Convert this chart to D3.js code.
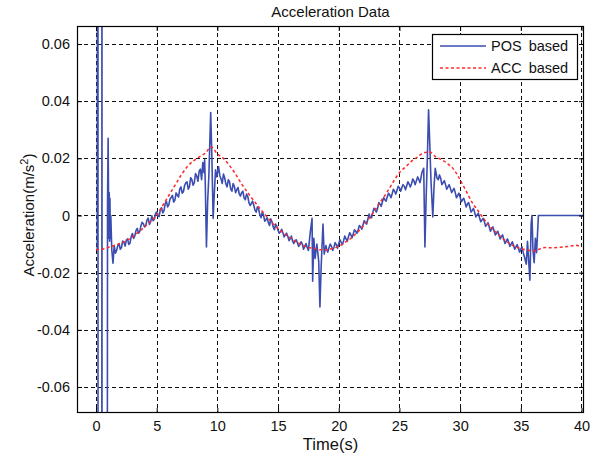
<!DOCTYPE html>
<html><head><meta charset="utf-8">
<script src="https://cdn.jsdelivr.net/npm/d3@7"></script>
<style>body{margin:0;background:#fff}svg{display:block;font-family:Arial,"Liberation Sans",sans-serif}</style>
</head><body><svg id="c" width="594" height="460"></svg>
<script>
const chartTitle = "Acceleration Data";
const xLabel = "Time(s)";
const seriesNames = ["POS based", "ACC based"];
const xTicks = [0, 5, 10, 15, 20, 25, 30, 35, 40];
const xTickLabels = ["0", "5", "10", "15", "20", "25", "30", "35", "40"];
const yTicks = [-0.06, -0.04, -0.02, 0, 0.02, 0.04, 0.06];
const yTickLabels = ["-0.06", "-0.04", "-0.02", "0", "0.02", "0.04", "0.06"];
const xDomain = [-1.565, 40.206];
const yDomain = [-0.0691, 0.0663];

// POS based: [time s, acceleration m/s^2]
const posBased = [
[0.1,-0.012],[0.16,0.3],[0.17,-0.3],[0.48,-0.3],[0.49,0.3],[0.5,-0.3],[0.9,-0.3],[0.95,0.004],
[1.0,0.027],[1.03,0.008],[1.06,-0.008],[1.09,0.008],[1.12,-0.009],[1.15,0.006],[1.18,-0.008],
[1.22,0.0],[1.3,-0.012],[1.4,-0.0167],[1.5,-0.0105],[1.6,-0.0132],[1.7,-0.0122],[1.8,-0.0105],[1.9,-0.0098],
[2.0,-0.0118],[2.1,-0.0112],[2.2,-0.0089],[2.3,-0.0094],[2.4,-0.0107],[2.5,-0.0086],[2.6,-0.0082],[2.7,-0.0101],
[2.8,-0.0097],[2.9,-0.0074],[3.0,-0.0063],[3.1,-0.0080],[3.2,-0.0071],[3.3,-0.0052],[3.4,-0.0045],[3.5,-0.0062],
[3.6,-0.0057],[3.7,-0.0036],[3.8,-0.0024],[3.9,-0.0029],[4.0,-0.0040],[4.1,-0.0035],[4.2,-0.0016],[4.3,-0.0009],
[4.4,-0.0031],[4.5,-0.0022],[4.6,-0.0001],[4.7,-0.0018],[4.8,-0.0013],[4.9,0.0006],[5.0,0.0012],[5.1,-0.0002],
[5.2,-0.0004],[5.3,0.0021],[5.4,0.0027],[5.5,0.0009],[5.6,0.0016],[5.7,0.0041],[5.8,0.0050],[5.9,0.0030],
[6.0,0.0037],[6.1,0.0058],[6.2,0.0064],[6.3,0.0070],[6.4,0.0047],[6.5,0.0054],[6.6,0.0079],[6.7,0.0071],
[6.8,0.0065],[6.9,0.0092],[7.0,0.0100],[7.1,0.0078],[7.2,0.0083],[7.3,0.0105],[7.4,0.0114],[7.5,0.0118],
[7.6,0.0092],[7.7,0.0101],[7.8,0.0132],[7.9,0.0125],[8.0,0.0106],[8.1,0.0115],[8.2,0.0147],[8.3,0.0138],
[8.4,0.0120],[8.5,0.0155],[8.6,0.0162],[8.7,0.0125],[8.8,0.0185],
[8.9,0.0150],[8.95,0.0195],[9.0,0.0120],[9.1,-0.0110],[9.2,0.0050],[9.3,0.0140],[9.45,0.0360],
[9.55,0.0200],[9.65,-0.0010],[9.75,0.0080],[9.85,0.0160],[9.95,0.0135],[10.1,0.0170],[10.2,0.0140],[10.3,0.0128],
[10.4,0.0112],[10.5,0.0145],[10.6,0.0132],[10.7,0.0110],[10.8,0.0100],[10.9,0.0125],[11.0,0.0118],[11.1,0.0092],
[11.2,0.0085],[11.3,0.0112],[11.4,0.0102],[11.5,0.0080],[11.6,0.0090],[11.7,0.0098],[11.8,0.0076],
[11.9,0.0068],[12.0,0.0080],[12.1,0.0085],[12.2,0.0062],[12.3,0.0055],[12.4,0.0075],[12.5,0.0068],[12.6,0.0045],
[12.7,0.0035],[12.8,0.0042],[12.9,0.0050],[13.0,0.0036],[13.1,0.0018],[13.2,0.0012],
[13.3,0.0030],[13.4,0.0022],[13.5,0.0002],[13.6,-0.0008],[13.7,0.0012],[13.8,0.0002],[13.9,-0.0020],[14.0,-0.0015],
[14.1,-0.0008],[14.2,-0.0025],[14.3,-0.0035],[14.4,-0.0012],[14.5,-0.0022],[14.6,-0.0040],
[14.7,-0.0050],[14.8,-0.0030],[14.9,-0.0038],[15.0,-0.0052],[15.1,-0.0062],[15.2,-0.0057],[15.3,-0.0048],
[15.4,-0.0060],[15.5,-0.0075],[15.6,-0.0068],[15.7,-0.0062],[15.8,-0.0072],[15.9,-0.0088],
[16.0,-0.0082],[16.1,-0.0072],[16.2,-0.0090],[16.3,-0.0098],[16.4,-0.0088],[16.5,-0.0085],[16.6,-0.0096],
[16.7,-0.0108],[16.8,-0.0102],[16.9,-0.0092],[17.0,-0.0100],[17.1,-0.0118],[17.2,-0.0108],[17.3,-0.0098],
[17.4,-0.0112],[17.5,-0.0122],[17.65,-0.0060],[17.8,-0.0010],[17.85,-0.0230],[17.95,-0.0080],[18.05,-0.0150],
[18.2,-0.0100],[18.35,-0.0160],[18.45,-0.0320],[18.55,-0.0180],[18.7,-0.0030],[18.8,-0.0135],
[18.95,-0.0105],[19.0,-0.0118],[19.1,-0.0128],[19.2,-0.0112],[19.3,-0.0100],[19.4,-0.0108],[19.5,-0.0122],
[19.6,-0.0112],[19.7,-0.0095],[19.8,-0.0102],[19.9,-0.0115],[20.0,-0.0098],[20.1,-0.0085],
[20.2,-0.0094],[20.3,-0.0102],[20.4,-0.0088],[20.5,-0.0072],[20.6,-0.0082],[20.7,-0.0090],[20.8,-0.0074],
[20.9,-0.0060],[21.0,-0.0068],[21.1,-0.0078],[21.2,-0.0064],[21.3,-0.0050],[21.4,-0.0055],[21.5,-0.0062],
[21.6,-0.0050],[21.7,-0.0035],[21.8,-0.0040],[21.9,-0.0048],[22.0,-0.0032],[22.1,-0.0018],[22.2,-0.0025],
[22.3,-0.0030],[22.4,-0.0012],[22.5,0.0005],[22.6,-0.0008],[22.7,-0.0008],[22.8,0.0010],[22.9,0.0025],
[23.0,0.0020],[23.1,0.0012],[23.2,0.0025],[23.3,0.0045],[23.4,0.0040],[23.5,0.0032],[23.6,0.0048],
[23.7,0.0062],[23.8,0.0055],[23.9,0.0050],[24.0,0.0066],[24.1,0.0078],[24.2,0.0072],[24.3,0.0062],
[24.4,0.0076],[24.5,0.0092],[24.6,0.0085],[24.7,0.0075],[24.8,0.0088],[24.9,0.0102],[25.0,0.0096],
[25.1,0.0085],[25.2,0.0098],[25.3,0.0108],[25.4,0.0102],[25.5,0.0090],[25.6,0.0104],[25.7,0.0118],
[25.8,0.0110],[25.9,0.0100],[26.0,0.0112],[26.1,0.0128],[26.2,0.0120],[26.3,0.0108],[26.4,0.0122],
[26.5,0.0135],[26.6,0.0125],[26.7,0.0115],[26.85,0.0150],[27.0,0.0165],
[27.1,-0.0110],[27.2,0.0060],[27.3,0.0200],[27.4,0.0370],[27.5,0.0250],[27.6,0.0120],[27.75,-0.0005],
[27.85,0.0100],[27.95,0.0165],[28.1,0.0130],[28.2,0.0125],[28.3,0.0142],[28.4,0.0130],[28.5,0.0108],
[28.6,0.0115],[28.7,0.0122],[28.8,0.0108],[28.9,0.0092],[29.0,0.0100],
[29.1,0.0108],[29.2,0.0095],[29.3,0.0080],[29.4,0.0088],[29.5,0.0095],[29.6,0.0080],[29.7,0.0062],
[29.8,0.0070],[29.9,0.0078],[30.0,0.0064],[30.1,0.0048],[30.2,0.0055],[30.3,0.0060],[30.4,0.0046],
[30.5,0.0030],[30.6,0.0040],[30.7,0.0045],[30.8,0.0030],[30.9,0.0012],[31.0,0.0018],[31.1,0.0025],
[31.2,0.0010],[31.3,-0.0005],[31.4,0.0002],[31.5,0.0008],[31.6,-0.0008],[31.7,-0.0022],[31.8,-0.0016],
[31.9,-0.0010],[32.0,-0.0022],[32.1,-0.0038],[32.2,-0.0032],[32.3,-0.0025],[32.4,-0.0040],[32.5,-0.0055],
[32.6,-0.0046],[32.7,-0.0040],[32.8,-0.0054],[32.9,-0.0068],[33.0,-0.0062],[33.1,-0.0055],[33.2,-0.0068],
[33.3,-0.0082],[33.4,-0.0074],[33.5,-0.0068],[33.6,-0.0084],[33.7,-0.0098],[33.8,-0.0090],[33.9,-0.0082],
[34.0,-0.0094],[34.1,-0.0108],[34.2,-0.0100],[34.3,-0.0092],[34.4,-0.0105],[34.5,-0.0118],[34.6,-0.0110],
[34.7,-0.0102],[34.8,-0.0114],[34.9,-0.0128],[35.0,-0.0118],[35.1,-0.0110],[35.2,-0.0130],[35.3,-0.0145],
[35.45,-0.0170],[35.55,-0.0090],
[35.65,-0.0160],[35.75,-0.0226],[35.85,-0.0030],[35.92,0.0000],[36.0,-0.0120],[36.1,-0.0165],
[36.2,-0.0080],[36.3,-0.0130],[36.45,0.0000],[40.3,0.0000]
];

// ACC based: [time s, acceleration m/s^2]
const accBased = [
[0,-0.0120],[0.5,-0.0118],[1.0,-0.0112],[1.5,-0.0105],[2.0,-0.0098],[2.5,-0.0088],[3.0,-0.0075],
[3.5,-0.0058],[4.0,-0.0040],[4.5,-0.0020],[5.0,0.0000],[5.5,0.0035],[6.0,0.0070],[6.5,0.0105],
[7.0,0.0140],[7.5,0.0170],[8.0,0.0190],[8.5,0.0205],[9.0,0.0218],[9.5,0.0240],[10.0,0.0215],
[10.5,0.0200],[11.0,0.0175],[11.5,0.0145],[12.0,0.0110],[12.5,0.0080],[13.0,0.0052],[13.5,0.0025],
[14.0,0.0000],[14.5,-0.0025],[15.0,-0.0045],[15.5,-0.0063],[16.0,-0.0078],[16.5,-0.0092],[17.0,-0.0103],
[17.5,-0.0112],[18.0,-0.0115],[18.5,-0.0120],[19.0,-0.0120],[19.5,-0.0115],[20.0,-0.0108],[20.5,-0.0095],
[21.0,-0.0080],[21.5,-0.0060],[22.0,-0.0038],[22.5,-0.0010],[23.0,0.0020],[23.5,0.0052],[24.0,0.0083],
[24.5,0.0118],[25.0,0.0150],[25.5,0.0170],[26.0,0.0190],[26.5,0.0205],[27.0,0.0220],[27.5,0.0222],
[28.0,0.0205],[28.5,0.0195],[29.0,0.0180],[29.5,0.0160],[30.0,0.0125],[30.5,0.0085],[31.0,0.0045],
[31.5,0.0015],[32.0,-0.0015],[32.5,-0.0040],[33.0,-0.0060],[33.5,-0.0080],[34.0,-0.0096],[34.5,-0.0108],
[35.0,-0.0116],[35.5,-0.0120],[36.0,-0.0124],[36.5,-0.0118],[37.0,-0.0112],[37.5,-0.0113],[38.0,-0.0112],
[38.5,-0.0110],[39.0,-0.0108],[39.5,-0.0104],[40.0,-0.0110]
];

const L = 77, T = 26, R = 584, B = 413;
const svg = d3.select("#c");
const x = d3.scaleLinear().domain(xDomain).range([L, R]);
const y = d3.scaleLinear().domain(yDomain).range([B, T]);

svg.append("rect").attr("width", 594).attr("height", 460).attr("fill", "#fff");

svg.append("defs").append("clipPath").attr("id", "clip")
  .append("rect").attr("x", L).attr("y", T).attr("width", R - L).attr("height", B - T);

// grid
const grid = svg.append("g").attr("stroke", "#111").attr("stroke-width", 1).attr("stroke-dasharray", "4,3");
grid.selectAll(".gx").data(xTicks).join("line")
  .attr("x1", d => Math.round(x(d)) + 0.5).attr("x2", d => Math.round(x(d)) + 0.5)
  .attr("y1", T).attr("y2", B);
grid.selectAll(".gy").data(yTicks).join("line")
  .attr("y1", d => Math.round(y(d)) + 0.5).attr("y2", d => Math.round(y(d)) + 0.5)
  .attr("x1", L).attr("x2", R);

// data
const line = d3.line().x(d => x(d[0])).y(d => y(d[1]));
const plot = svg.append("g").attr("clip-path", "url(#clip)");
plot.append("path").datum(posBased).attr("d", line).attr("fill", "none")
  .attr("stroke", "#3b4db0").attr("stroke-width", 1.6).attr("stroke-linejoin", "round");
plot.append("path").datum(accBased).attr("d", d3.line().curve(d3.curveMonotoneX).x(d => x(d[0])).y(d => y(d[1])))
  .attr("fill", "none").attr("stroke", "#ff2a2a").attr("stroke-width", 1.5).attr("stroke-dasharray", "3,2.5");

// axes
const fmtX = (d) => xTickLabels[xTicks.indexOf(d)];
const fmtY = (d) => yTickLabels[yTicks.indexOf(d)];
const axB = svg.append("g").attr("transform", `translate(0,${B})`)
  .call(d3.axisBottom(x).tickValues(xTicks).tickFormat(fmtX).tickSize(-5).tickPadding(8));
const axT = svg.append("g").attr("transform", `translate(0,${T})`)
  .call(d3.axisTop(x).tickValues(xTicks).tickFormat("").tickSize(-5));
const axL = svg.append("g").attr("transform", `translate(${L},0)`)
  .call(d3.axisLeft(y).tickValues(yTicks).tickFormat(fmtY).tickSize(-5).tickPadding(7));
const axR = svg.append("g").attr("transform", `translate(${R},0)`)
  .call(d3.axisRight(y).tickValues(yTicks).tickFormat("").tickSize(-5));
[axB, axT, axL, axR].forEach(a => {
  a.select(".domain").remove();
  a.selectAll("line").attr("stroke", "#000");
  a.selectAll("text").attr("font-family", "Arial, 'Liberation Sans', sans-serif").attr("font-size", 14.5).attr("fill", "#111");
});

svg.append("rect").attr("x", L + 0.5).attr("y", T + 0.5).attr("width", R - L - 1).attr("height", B - T - 1)
  .attr("fill", "none").attr("stroke", "#000").attr("stroke-width", 1.2);

// titles
svg.append("text").attr("x", (L + R) / 2).attr("y", 17).attr("text-anchor", "middle")
  .attr("font-size", 15).attr("fill", "#111").text(chartTitle);
svg.append("text").attr("x", (L + R) / 2).attr("y", 450).attr("text-anchor", "middle")
  .attr("font-size", 16.5).attr("fill", "#111").text(xLabel);
const yl = svg.append("text").attr("transform", "translate(34,215) rotate(-90)").attr("text-anchor", "middle")
  .attr("font-size", 15).attr("fill", "#111");
yl.append("tspan").text("Acceleration(m/s");
yl.append("tspan").attr("font-size", 11).attr("dy", -6).text("2");
yl.append("tspan").attr("dy", 6).text(")");

// legend
const lg = svg.append("g");
lg.append("rect").attr("x", 432.5).attr("y", 34.5).attr("width", 145).attr("height", 45)
  .attr("fill", "#fff").attr("stroke", "#000").attr("stroke-width", 1.2);
lg.append("line").attr("x1", 440).attr("x2", 486).attr("y1", 46).attr("y2", 46)
  .attr("stroke", "#3b4db0").attr("stroke-width", 1.4);
lg.append("line").attr("x1", 440).attr("x2", 486).attr("y1", 68).attr("y2", 68)
  .attr("stroke", "#ff2a2a").attr("stroke-width", 1.5).attr("stroke-dasharray", "3,2.5");
lg.append("text").attr("x", 491).attr("y", 51).attr("font-size", 14.5).attr("fill", "#111")
  .attr("word-spacing", 3).text(seriesNames[0]);
lg.append("text").attr("x", 491).attr("y", 73).attr("font-size", 14.5).attr("fill", "#111")
  .attr("word-spacing", 3).text(seriesNames[1]);
</script></body></html>
